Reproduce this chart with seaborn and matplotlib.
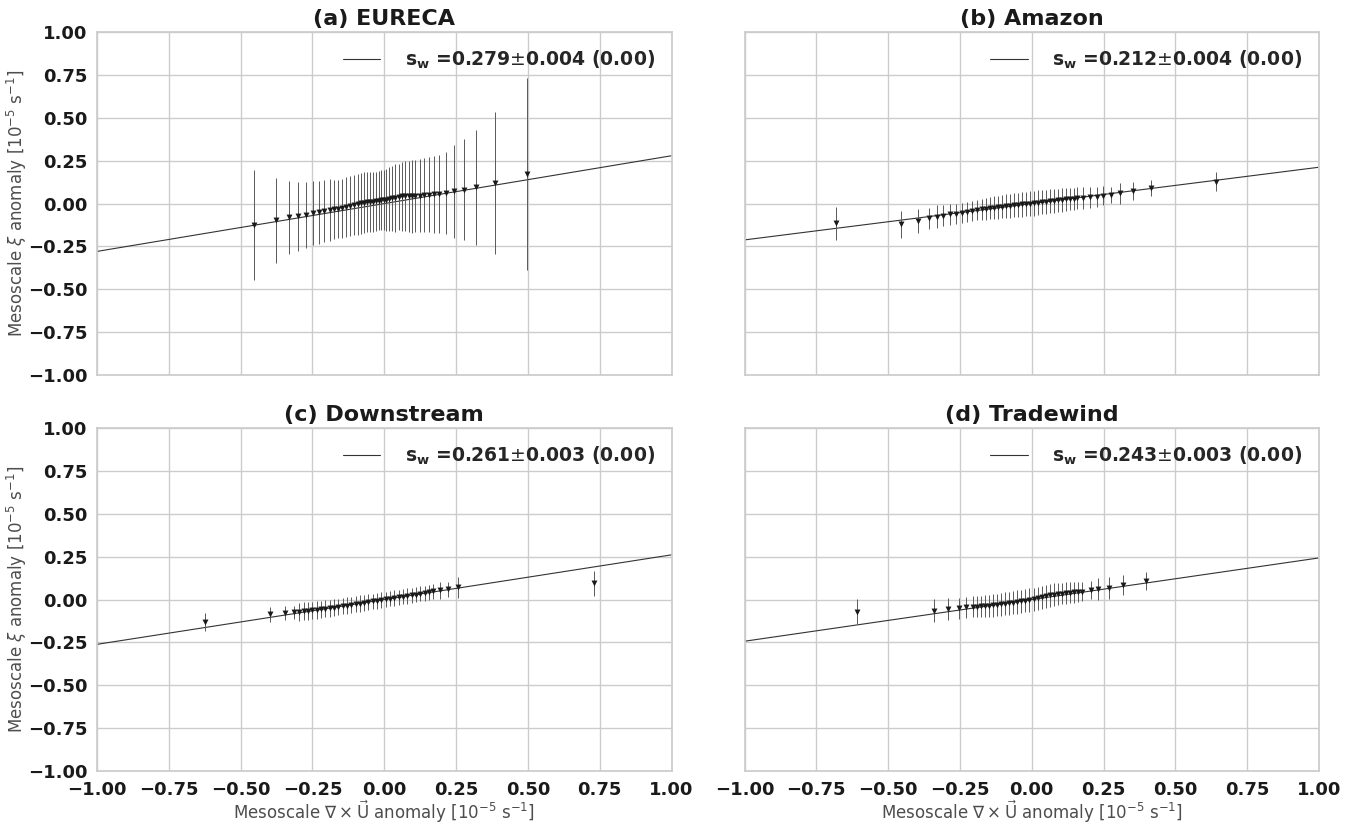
import numpy as np
import matplotlib
matplotlib.use("Agg")
import matplotlib.pyplot as plt
import seaborn as sns

sns.set_theme(style="whitegrid")
plt.rcParams['font.family'] = ['DejaVu Sans']
plt.rcParams['mathtext.fontset'] = 'dejavusans'

titles = ["(a) EURECA", "(b) Amazon", "(c) Downstream", "(d) Tradewind"]
slopes = [0.279, 0.212, 0.261, 0.243]
slope_err = [0.004, 0.004, 0.003, 0.003]
pvals = [0.00, 0.00, 0.00, 0.00]

# (a) EURECA
xa = [-0.453, -0.376, -0.333, -0.299, -0.272, -0.248, -0.229, -0.209, -0.190, -0.176,
      -0.161, -0.147, -0.133, -0.118, -0.105, -0.093, -0.081, -0.070, -0.060, -0.049,
      -0.039, -0.029, -0.020, -0.010, -0.001, 0.007, 0.016, 0.027, 0.038, 0.052,
      0.061, 0.073, 0.085, 0.097, 0.108, 0.123, 0.137, 0.154, 0.172, 0.189,
      0.216, 0.244, 0.276, 0.320, 0.386, 0.497]
ya = [-0.125, -0.096, -0.081, -0.075, -0.067, -0.057, -0.052, -0.044, -0.038, -0.034,
      -0.032, -0.028, -0.022, -0.015, -0.009, -0.003, 0.001, 0.005, 0.008, 0.010,
      0.012, 0.014, 0.016, 0.018, 0.020, 0.022, 0.026, 0.030, 0.034, 0.040,
      0.042, 0.043, 0.043, 0.043, 0.045, 0.047, 0.049, 0.051, 0.053, 0.057,
      0.063, 0.072, 0.082, 0.094, 0.120, 0.172]
ea = [0.320, 0.248, 0.211, 0.199, 0.191, 0.187, 0.185, 0.180, 0.180, 0.173,
      0.170, 0.170, 0.175, 0.177, 0.177, 0.178, 0.177, 0.177, 0.175, 0.175,
      0.175, 0.173, 0.173, 0.175, 0.175, 0.180, 0.185, 0.190, 0.197, 0.193,
      0.201, 0.204, 0.207, 0.214, 0.212, 0.214, 0.214, 0.219, 0.222, 0.227,
      0.238, 0.272, 0.296, 0.335, 0.417, 0.560]

# (b) Amazon
xb = [-0.682, -0.456, -0.397, -0.358, -0.331, -0.308, -0.285, -0.264, -0.244, -0.226,
      -0.209, -0.192, -0.175, -0.160, -0.146, -0.132, -0.118, -0.104, -0.090, -0.076,
      -0.062, -0.048, -0.034, -0.020, -0.006, 0.008, 0.022, 0.036, 0.050, 0.064,
      0.078, 0.092, 0.106, 0.120, 0.134, 0.148, 0.157, 0.180, 0.203, 0.226,
      0.249, 0.276, 0.308, 0.351, 0.415, 0.642]
yb = [-0.116, -0.120, -0.100, -0.085, -0.077, -0.071, -0.063, -0.061, -0.057, -0.051,
      -0.045, -0.038, -0.034, -0.031, -0.027, -0.024, -0.021, -0.018, -0.016, -0.013,
      -0.010, -0.008, -0.005, -0.002, 0.000, 0.002, 0.005, 0.008, 0.010, 0.013,
      0.015, 0.018, 0.021, 0.024, 0.026, 0.028, 0.030, 0.033, 0.036, 0.040,
      0.045, 0.051, 0.059, 0.072, 0.091, 0.127]
eb = [0.097, 0.078, 0.070, 0.061, 0.066, 0.062, 0.060, 0.060, 0.058, 0.058,
      0.058, 0.058, 0.060, 0.062, 0.064, 0.066, 0.067, 0.068, 0.069, 0.070,
      0.070, 0.071, 0.071, 0.072, 0.072, 0.072, 0.072, 0.071, 0.071, 0.070,
      0.070, 0.069, 0.068, 0.067, 0.066, 0.064, 0.064, 0.062, 0.060, 0.058,
      0.056, 0.045, 0.060, 0.052, 0.049, 0.055]

# (c) Downstream
xc = [-0.624, -0.397, -0.344, -0.316, -0.297, -0.280, -0.265, -0.250, -0.235, -0.220,
      -0.205, -0.190, -0.175, -0.160, -0.145, -0.130, -0.115, -0.100, -0.085, -0.070,
      -0.055, -0.040, -0.025, -0.010, 0.005, 0.020, 0.035, 0.050, 0.065, 0.080,
      0.095, 0.110, 0.125, 0.140, 0.155, 0.170, 0.193, 0.221, 0.255, 0.729]
yc = [-0.129, -0.086, -0.081, -0.075, -0.071, -0.068, -0.066, -0.063, -0.060, -0.057,
      -0.054, -0.050, -0.047, -0.043, -0.039, -0.035, -0.031, -0.027, -0.023, -0.019,
      -0.015, -0.011, -0.007, -0.003, 0.001, 0.005, 0.009, 0.013, 0.017, 0.021,
      0.025, 0.029, 0.033, 0.038, 0.043, 0.048, 0.055, 0.061, 0.071, 0.094]
ec = [0.053, 0.042, 0.041, 0.040, 0.052, 0.052, 0.052, 0.051, 0.051, 0.050,
      0.050, 0.049, 0.049, 0.049, 0.048, 0.048, 0.048, 0.047, 0.047, 0.047,
      0.046, 0.046, 0.046, 0.046, 0.045, 0.045, 0.045, 0.045, 0.045, 0.044,
      0.044, 0.044, 0.044, 0.044, 0.044, 0.044, 0.049, 0.044, 0.060, 0.071]

# (d) Tradewind
xd = [-0.608, -0.339, -0.291, -0.254, -0.229, -0.206, -0.190, -0.176, -0.162, -0.148,
      -0.134, -0.120, -0.106, -0.092, -0.078, -0.064, -0.050, -0.036, -0.022, -0.008,
      0.006, 0.020, 0.034, 0.048, 0.062, 0.076, 0.090, 0.104, 0.118, 0.132,
      0.146, 0.160, 0.174, 0.206, 0.232, 0.268, 0.317, 0.397]
yd = [-0.071, -0.065, -0.057, -0.052, -0.046, -0.042, -0.042, -0.040, -0.038, -0.036,
      -0.034, -0.031, -0.028, -0.025, -0.022, -0.019, -0.015, -0.011, -0.007, -0.003,
      0.002, 0.008, 0.014, 0.020, 0.025, 0.029, 0.032, 0.035, 0.038, 0.040,
      0.042, 0.044, 0.047, 0.055, 0.061, 0.069, 0.085, 0.108]
ed = [0.073, 0.068, 0.065, 0.063, 0.062, 0.062, 0.062, 0.063, 0.064, 0.065,
      0.065, 0.066, 0.067, 0.067, 0.068, 0.068, 0.068, 0.068, 0.068, 0.068,
      0.068, 0.068, 0.067, 0.067, 0.066, 0.065, 0.064, 0.063, 0.062, 0.061,
      0.060, 0.059, 0.058, 0.053, 0.062, 0.064, 0.061, 0.055]

xs = [xa, xb, xc, xd]
ys = [ya, yb, yc, yd]
es = [ea, eb, ec, ed]

fig, axes = plt.subplots(2, 2, figsize=(13.59, 8.24), dpi=100, sharex=True, sharey=True)
fig.subplots_adjust(left=0.0714, right=0.9706, top=0.961, bottom=0.0643,
                    wspace=0.127, hspace=0.155)

for i, ax in enumerate(axes.flat):
    x = np.array(xs[i])
    y = np.array(ys[i])
    s = slopes[i]
    lab = r'$\mathbf{s_w}$ =' + f'{s:.3f}' + r'$\pm$' + f'{slope_err[i]:.3f} ({pvals[i]:.2f})'
    sns.lineplot(x=[-1, 1], y=[-s, s], color='0.2', lw=0.8, label=lab, ax=ax)
    ax.errorbar(x, y, yerr=es[i], fmt='none', ecolor='0.35', elinewidth=0.7, capsize=0)
    sns.scatterplot(x=x, y=y, marker='v', color='k', s=18, edgecolor='k', linewidth=0, ax=ax, zorder=5)
    ax.set_xlim(-1, 1)
    ax.set_ylim(-1, 1)
    ax.set_xticks(np.arange(-1, 1.01, 0.25))
    ax.set_yticks(np.arange(-1, 1.01, 0.25))
    ax.set_title(titles[i], fontsize=16, fontweight='bold', pad=5, color='0.1')
    ax.tick_params(labelsize=13, pad=1)
    for t in ax.get_xticklabels() + ax.get_yticklabels():
        t.set_fontweight('bold')
        t.set_color('k')
    ax.legend(loc='upper right', frameon=False, prop={'weight': 'bold', 'size': 13.5},
              handlelength=2.0, handletextpad=1.3, borderaxespad=0.5)
    ax.set_xlabel('')
    ax.set_ylabel('')

for ax in axes[:, 0]:
    ax.set_ylabel(r'Mesoscale $\xi$ anomaly [10$^{-5}$ s$^{-1}$]', fontsize=12, color='0.3')
    ax.yaxis.set_label_coords(-0.118, 0.5)
for ax in axes[1, :]:
    ax.set_xlabel(r'Mesoscale $\nabla\times\vec{\mathrm{U}}$ anomaly [10$^{-5}$ s$^{-1}$]',
                  fontsize=12, color='0.3')
    ax.xaxis.set_label_coords(0.5, -0.08)

plt.savefig("out.png", dpi=100)
